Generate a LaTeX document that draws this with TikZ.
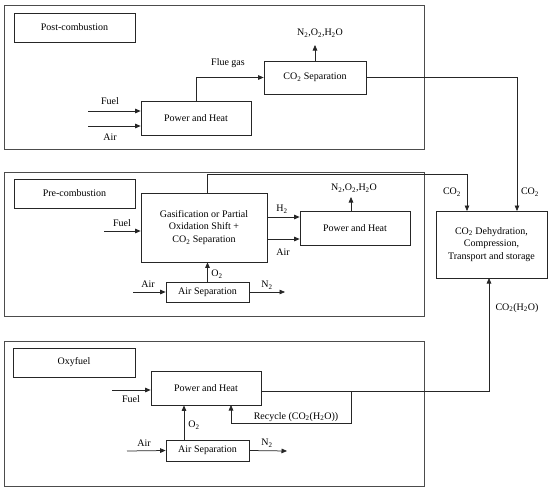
\documentclass[tikz,border=0pt]{standalone}
\usepackage{fontspec}
\setmainfont{Liberation Serif}
\usetikzlibrary{arrows.meta}
\newcommand{\sbs}[1]{\textsubscript{#1}}
\begin{document}
\begin{tikzpicture}[x=1pt,y=-1pt,
  font=\fontsize{10}{12.8}\selectfont,
  frame/.style={draw=black!70, line width=0.8pt},
  box/.style={draw=black!85, line width=0.75pt, inner sep=0pt, align=center},
  arr/.style={draw=black!85, line width=0.75pt, -{Triangle[length=5.5pt,width=4.6pt]}},
  ln/.style={draw=black!85, line width=0.75pt},
  lbl/.style={inner sep=0pt}]
\useasboundingbox (0,0) rectangle (550,493);
% frames
\draw[frame] (4,5) rectangle (424,149);
\draw[frame] (4,172) rectangle (424,316);
\draw[frame] (4,341) rectangle (424,486);

% sink box
\node[box, minimum width=111, minimum height=67] (dh) at (491.5,244.5)
  {CO\sbs{2} Dehydration,\\Compression,\\Transport and storage};

% ---------- Post-combustion
\node[box, minimum width=121, minimum height=29] (t1) at (74.5,27.5) {Post-combustion};
\node[box, minimum width=110, minimum height=34] (ph1) at (196,118) {Power and Heat};
\node[box, minimum width=102, minimum height=33] (cs1) at (315,77.5) {CO\sbs{2} Separation};
\coordinate (f1) at (88,111);
\coordinate (a1) at (88,126);
\draw[arr] (f1) -- (f1 -| ph1.west);
\draw[arr] (a1) -- (a1 -| ph1.west);
\node[lbl] (lf1) at (110,101) {Fuel};
\node[lbl] (la1) at (110,137) {Air};
\draw[arr] (ph1.north) |- (cs1.west);
\node[lbl] (lfg) at (228,63) {Flue gas};
\coordinate (n1) at (315,45);
\draw[arr] (cs1.north) -- (n1);
\node[lbl] (ln1) at (320,33) {N\sbs{2},O\sbs{2},H\sbs{2}O};
\coordinate (d1) at (517,211);
\draw[arr] (cs1.east) -| (d1);
\node[lbl] (lc1) at (530,192) {CO\sbs{2}};

% ---------- Pre-combustion
\node[box, minimum width=121, minimum height=29] (t2) at (74.5,193.5) {Pre-combustion};
\node[box, minimum width=126, minimum height=69] (gs) at (204,227.5)
  {Gasification or Partial\\Oxidation Shift +\\CO\sbs{2} Separation};
\node[box, minimum width=110, minimum height=34] (ph2) at (355,228) {Power and Heat};
\node[box, minimum width=83, minimum height=20] (as2) at (207.5,292) {Air Separation};
\coordinate (f2) at (104,231);
\draw[arr] (f2) -- (f2 -| gs.west);
\node[lbl] (lf2) at (122,223) {Fuel};
\coordinate (h2) at (267,217);
\coordinate (a2) at (267,239);
\draw[arr] (h2) -- (h2 -| ph2.west);
\draw[arr] (a2) -- (a2 -| ph2.west);
\node[lbl] (lh2) at (282,209) {H\sbs{2}};
\node[lbl] (la2) at (283,252) {Air};
\coordinate (n2s) at (351,211);
\coordinate (n2) at (351,197);
\draw[arr] (n2s) -- (n2);
\node[lbl] (ln2) at (354,188) {N\sbs{2},O\sbs{2},H\sbs{2}O};
\draw[arr] (as2.north) -- (as2.north |- gs.south);
\node[lbl] (lo2) at (217,274) {O\sbs{2}};
\coordinate (ai2) at (133,292);
\draw[arr] (ai2) -- (as2.west);
\node[lbl] (lai2) at (148,284) {Air};
\coordinate (nn2) at (285,292);
\draw[arr] (as2.east) -- (nn2);
\node[lbl] (lnn2) at (267,285) {N\sbs{2}};
\coordinate (g2) at (207,193);
\coordinate (d2) at (467,211);
\draw[arr] (g2) -- (207,174) -| (d2);
\node[lbl] (lc2) at (452,192) {CO\sbs{2}};

% ---------- Oxyfuel
\node[box, minimum width=122, minimum height=29] (t3) at (74,362.5) {Oxyfuel};
\node[box, minimum width=110, minimum height=34] (ph3) at (206,388) {Power and Heat};
\node[box, minimum width=83, minimum height=21] (as3) at (207.5,450.5) {Air Separation};
\coordinate (f3) at (112,390);
\draw[arr] (f3) -- (f3 -| ph3.west);
\node[lbl] (lf3) at (131,399) {Fuel};
\coordinate (o3) at (184,440);
\draw[arr] (o3) -- (o3 |- ph3.south);
\node[lbl] (lo3) at (194,425) {O\sbs{2}};
\coordinate (ai3) at (127,451);
\draw[arr] (ai3) -- (as3.west);
\node[lbl] (lai3) at (144,443) {Air};
\coordinate (nn3) at (287,451);
\draw[arr] (as3.east) -- (nn3);
\node[lbl] (lnn3) at (267,443) {N\sbs{2}};
\coordinate (e3) at (261,391);
\coordinate (d3) at (489,278);
\draw[arr] (e3) -| (d3);
\coordinate (r3) at (351,391);
\coordinate (r3e) at (231,405);
\draw[arr] (r3) -- (351,423) -| (r3e);
\node[lbl] (lr3) at (296,417) {Recycle (CO\sbs{2}(H\sbs{2}O))};
\node[lbl] (lc3) at (517,308) {CO\sbs{2}(H\sbs{2}O)};
\end{tikzpicture}
\end{document}
